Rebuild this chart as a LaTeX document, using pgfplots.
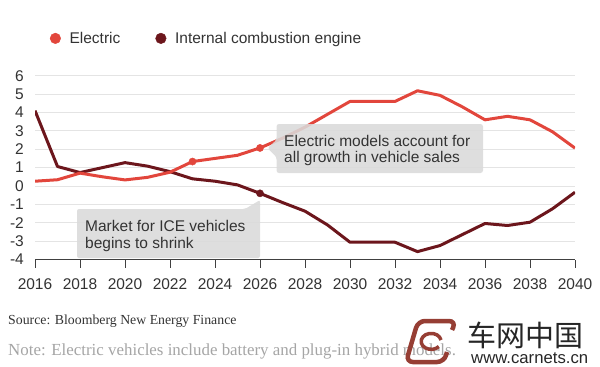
\documentclass[border=0pt]{standalone}
\usepackage{pgfplots}
\pgfplotsset{compat=1.18}
\usepackage{fontspec}
\setmainfont{Liberation Sans}
\newfontfamily\seriffont{Liberation Serif}
\newfontfamily\cjk{Noto Sans CJK SC}
\definecolor{elec}{RGB}{226,70,60}
\definecolor{ice}{RGB}{108,22,28}
\definecolor{boxgray}{RGB}{218,218,218}
\definecolor{txt}{RGB}{51,51,51}
\definecolor{gridc}{RGB}{228,228,228}
\definecolor{notegray}{RGB}{165,165,165}
\definecolor{logoc}{RGB}{150,62,52}
\begin{document}
\begin{tikzpicture}
\begin{scope}[x=1bp,y=-1bp]
\useasboundingbox (0,0) rectangle (600,366);
\end{scope}
\begin{axis}[
  at={(35bp,-259.5bp)}, anchor=south west,
  scale only axis, width=540bp, height=183.8bp,
  xmin=2016, xmax=2040, ymin=-4, ymax=6,
  axis x line=bottom, axis y line=left,
  x axis line style={draw=black!75, line width=1bp, -},
  y axis line style={draw=none},
  ytick style={draw=none},
  xtick style={draw=black!75, line width=1bp},
  tick align=outside, major tick length=8bp,
  xtick={2016,2018,...,2040},
  xticklabels={2016,2018,2020,2022,2024,2026,2028,2030,2032,2034,2036,2038,2040},
  ytick={-4,-3,...,6},
  yticklabels={-4,-3,-2,-1,0,1,2,3,4,5,6},
  ymajorgrids, grid style={draw=gridc, line width=0.8bp},
  every tick label/.append style={font=\fontsize{15.5bp}{18bp}\selectfont, text=txt, inner sep=0pt},
  yticklabel style={anchor=east, xshift=-3bp},
  xticklabel style={anchor=north, yshift=-11bp},
  legend style={at={(axis description cs:0.0272,1.2003)}, anchor=west, draw=none, fill=none,
    inner sep=0pt, nodes={inner sep=0pt, text=txt}, font=\fontsize{15.5bp}{18bp}\selectfont,
    /tikz/every odd column/.append style={column sep=8.7bp},
    /tikz/every even column/.append style={column sep=35bp}},
  legend columns=2,
]
\addlegendimage{legend image code/.code={\fill[elec] (5.3bp,0.5bp) circle (5.3bp);}}
\addlegendentry{Electric}
\addlegendimage{legend image code/.code={\fill[ice] (5.3bp,0.5bp) circle (5.3bp);}}
\addlegendentry{Internal combustion engine}
\addplot[ice, line width=3bp, line join=round, forget plot] coordinates {
(2016,4.10) (2017,1.06) (2018,0.73) (2019,1.00) (2020,1.27) (2021,1.08) (2022,0.78)
(2023,0.39) (2024,0.26) (2025,0.06) (2026,-0.40) (2027,-0.90) (2028,-1.37) (2029,-2.12)
(2030,-3.06) (2031,-3.06) (2032,-3.06) (2033,-3.57) (2034,-3.24) (2035,-2.64) (2036,-2.04)
(2037,-2.15) (2038,-1.97) (2039,-1.24) (2040,-0.34)};
\addplot[elec, line width=3bp, line join=round, forget plot] coordinates {
(2016,0.26) (2017,0.34) (2018,0.70) (2019,0.50) (2020,0.33) (2021,0.47) (2022,0.75)
(2023,1.33) (2024,1.50) (2025,1.67) (2026,2.07) (2027,2.60) (2028,3.20) (2029,3.90)
(2030,4.60) (2031,4.60) (2032,4.60) (2033,5.18) (2034,4.93) (2035,4.30) (2036,3.60)
(2037,3.79) (2038,3.60) (2039,2.95) (2040,2.06)};
\addplot[only marks, mark=*, mark size=3.6bp, color=elec, forget plot] coordinates {(2023,1.33) (2026,2.07)};
\addplot[only marks, mark=*, mark size=3.6bp, color=ice, forget plot] coordinates {(2026,-0.40)};
\end{axis}
\begin{scope}[x=1bp,y=-1bp]
\fill[boxgray, fill opacity=0.88, rounded corners=2.5bp]
  (276.5,124) -- (483,124) -- (483,173) -- (276.5,173) -- (276.5,157) -- (267.5,148) -- (276.5,140) -- cycle;
\node[anchor=base west, inner sep=0, text=txt, font=\fontsize{15.5bp}{18bp}\selectfont] at (284,146) {Electric models account for};
\node[anchor=base west, inner sep=0, text=txt, font=\fontsize{15.5bp}{18bp}\selectfont] at (284,162.7) {all growth in vehicle sales};
\fill[boxgray, fill opacity=0.88, rounded corners=2bp]
  (77,209) -- (245,209) -- (260,200) -- (260,258) -- (77,258) -- cycle;
\node[anchor=base west, inner sep=0, text=txt, font=\fontsize{15.5bp}{18bp}\selectfont] at (85,231) {Market for ICE vehicles};
\node[anchor=base west, inner sep=0, text=txt, font=\fontsize{15.5bp}{18bp}\selectfont] at (85,248.3) {begins to shrink};
\node[anchor=base west, inner sep=0, text=txt, font=\seriffont\fontsize{13.8bp}{16bp}\selectfont] at (8,324.7) {Source: Bloomberg New Energy Finance};
\node[anchor=base west, inner sep=0, text=notegray, font=\seriffont\fontsize{16.9bp}{19bp}\selectfont] at (8,355) {Note: Electric vehicles include battery and plug-in hybrid models.};
% simplified logo
\draw[logoc, line width=4.5bp, rounded corners=7bp] (452,330) -- (456,321) -- (418,321) -- (406,362) -- (444,362) -- (447,352);
\draw[logoc, line width=3.5bp] (441,340) arc[start angle=10, end angle=320, x radius=10bp, y radius=8bp];
\node[anchor=base west, inner sep=0, text=black!85, font=\cjk\fontsize{29bp}{32bp}\selectfont] at (467.5,346) {车网中国};
\node[anchor=base west, inner sep=0, text=black!85, font=\fontsize{16.7bp}{19bp}\selectfont] at (471,363) {www.carnets.cn};
\end{scope}
\end{tikzpicture}
\end{document}
